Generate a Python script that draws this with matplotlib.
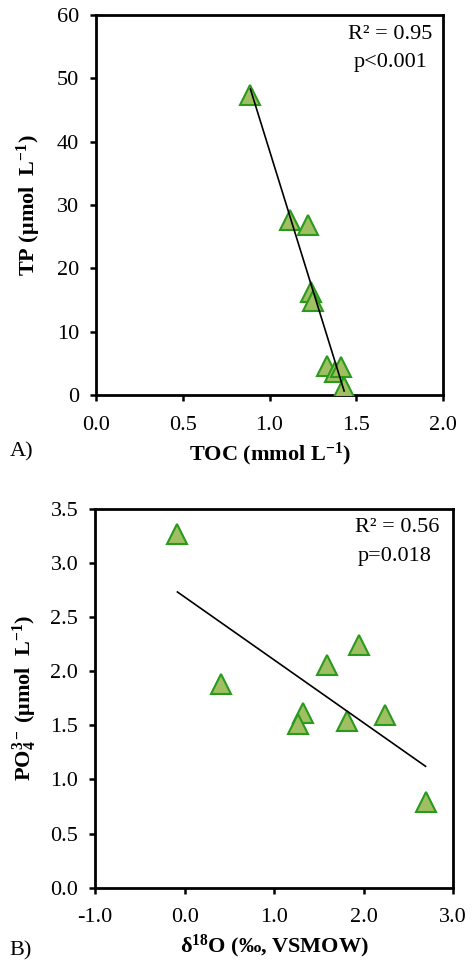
import numpy as np
import matplotlib
matplotlib.use("Agg")
import matplotlib.pyplot as plt

plt.rcParams['font.family'] = ['Liberation Serif', 'DejaVu Serif']
plt.rcParams['mathtext.fontset'] = 'custom'
plt.rcParams['mathtext.rm'] = 'Liberation Serif'
plt.rcParams['mathtext.bf'] = 'Liberation Serif:bold'
plt.rcParams['mathtext.it'] = 'Liberation Serif:italic'

# panel A: TOC vs TP
toc = [0.89, 1.12, 1.22, 1.24, 1.25, 1.33, 1.38, 1.41, 1.43]
tp = [47.4, 27.7, 26.9, 16.3, 14.8, 4.6, 3.6, 4.5, 1.2]

# panel B: d18O vs phosphate
d18o = [-0.08, 0.41, 1.32, 1.27, 1.59, 1.95, 1.81, 2.24, 2.69]
po4 = [3.27, 1.88, 1.61, 1.51, 2.06, 2.24, 1.54, 1.60, 0.79]

face = '#9fbf62'
edge = '#2a9a1c'
fs = 16


def style_axes(ax):
    for s in ax.spines.values():
        s.set_linewidth(2)
    ax.tick_params(direction='out', length=4, width=1.8, labelsize=fs,
                   top=False, right=False)
    ax.tick_params(axis='x', pad=11)
    ax.tick_params(axis='y', pad=8)


def scatter_fit(ax, x, y):
    x = np.array(x)
    y = np.array(y)
    ax.plot(x, y, '^', ms=15, mfc=face, mec=edge, mew=1.5, zorder=3)
    k, b = np.polyfit(x, y, 1)
    xs = np.array([x.min(), x.max()])
    ax.plot(xs, k * xs + b, color='black', lw=1.2, zorder=4)


fig = plt.figure(figsize=(4.72, 9.64), dpi=100)

axA = fig.add_axes([0.2034, 0.5902, 0.7352, 0.3942])
scatter_fit(axA, toc, tp)
axA.set_xlim(0, 2.0)
axA.set_ylim(0, 60)
axA.set_xticks(np.arange(0, 2.01, 0.5))
axA.set_xticklabels(['0.0', '0.5', '1.0', '1.5', '2.0'])
axA.set_yticks(np.arange(0, 61, 10))
style_axes(axA)
axA.set_xlabel(r'TOC (mmol L$^{\mathbf{-1}}$)', fontsize=fs, fontweight='bold', labelpad=4)
axA.set_ylabel(r'TP ($\mathbf{\mu}$mol  L$^{\mathbf{-1}}$)', fontsize=fs, fontweight='bold', labelpad=10)
axA.text(0.97, 0.975, 'R² = 0.95', transform=axA.transAxes, ha='right', va='top', fontsize=fs)
axA.text(0.955, 0.9, 'p<0.001', transform=axA.transAxes, ha='right', va='top', fontsize=fs)
fig.text(0.02, 0.531, 'A)', fontsize=fs, va='center')

axB = fig.add_axes([0.2013, 0.0792, 0.7591, 0.3928])
scatter_fit(axB, d18o, po4)
axB.set_xlim(-1.0, 3.0)
axB.set_ylim(0, 3.5)
axB.set_xticks(np.arange(-1.0, 3.01, 1.0))
axB.set_xticklabels(['-1.0', '0.0', '1.0', '2.0', '3.0'])
axB.set_yticks(np.arange(0, 3.51, 0.5))
axB.set_yticklabels(['%.1f' % v for v in np.arange(0, 3.51, 0.5)])
style_axes(axB)
axB.set_xlabel(r'$\mathbf{\delta}^{\mathbf{18}}$O (‰, VSMOW)', fontsize=fs, fontweight='bold', labelpad=4)
axB.set_ylabel(r'PO$_{\mathbf{4}}^{\mathbf{3-}}$ ($\mathbf{\mu}$mol  L$^{\mathbf{-1}}$)', fontsize=fs, fontweight='bold', labelpad=8)
axB.text(0.96, 0.975, 'R² = 0.56', transform=axB.transAxes, ha='right', va='top', fontsize=fs)
axB.text(0.94, 0.9, 'p=0.018', transform=axB.transAxes, ha='right', va='top', fontsize=fs)
fig.text(0.02, 0.004, 'B)', fontsize=fs, va='bottom')

fig.savefig('out.png', dpi=100)
